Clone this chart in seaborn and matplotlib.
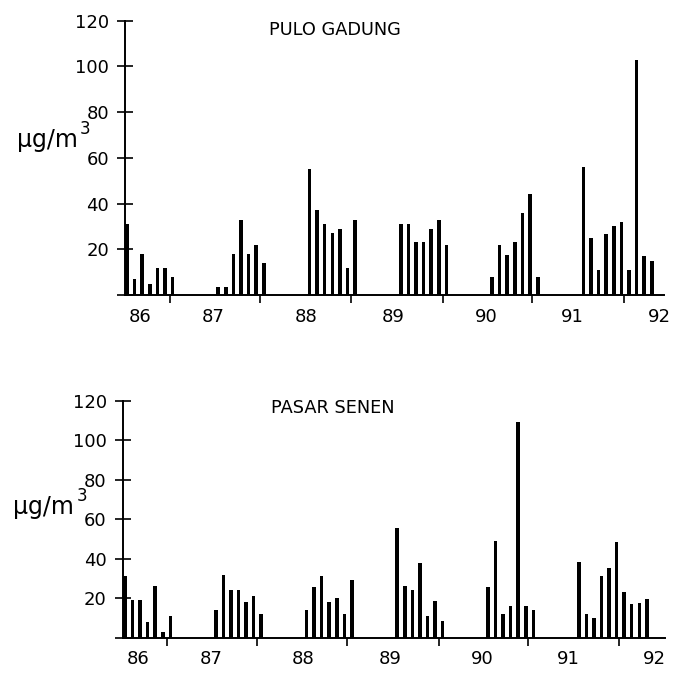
import numpy as np
import pandas as pd
import matplotlib
matplotlib.use("Agg")
import matplotlib.pyplot as plt
import seaborn as sns

# ---- data (months counted from Jan 1986) ----
year_labels = ["86", "87", "88", "89", "90", "91", "92"]
year_label_pos = [1.8, 11.4, 23.5, 35.0, 47.2, 58.6, 70.0]
midyear_ticks = [5.6, 17.5, 29.4, 41.5, 53.3, 65.3]

months = [0, 1, 2, 3, 4, 5, 6,
          12, 13, 14, 15, 16, 17, 18,
          24, 25, 26, 27, 28, 29, 30,
          36, 37, 38, 39, 40, 41, 42,
          48, 49, 50, 51, 52, 53, 54,
          60, 61, 62, 63, 64, 65, 66, 67, 68, 69]

pulo_gadung = [31, 7, 18, 5, 12, 12, 8,
               3.5, 3.5, 18, 33, 18, 22, 14,
               55, 37, 31, 27, 29, 12, 33,
               31, 31, 23, 23, 29, 33, 22,
               8, 22, 17.5, 23, 36, 44, 8,
               56, 25, 11, 26.5, 30, 32, 11, 103, 17, 15]

pasar_senen = [31, 19, 19, 8, 26, 3, 11,
               14, 32, 24, 24, 18, 21, 12,
               14, 25.5, 31, 18, 20, 12, 29,
               55.5, 26, 24, 38, 11, 18.5, 8.5,
               25.5, 49, 12, 16, 109, 16, 14,
               38.5, 12, 10, 31, 35.5, 48.5, 23, 17, 17.5, 19.5]

yticks = [0, 20, 40, 60, 80, 100, 120]
ytick_labels = ["", "20", "40", "60", "80", "100", "120"]
titles = ["PULO GADUNG", "PASAR SENEN"]

sns.set_theme(style="white")
plt.rcParams["font.family"] = ["DejaVu Sans"]

fig = plt.figure(figsize=(6.73, 6.79), dpi=100)
W, H = 673, 679

# axes boxes in pixels
boxes = [
    dict(left=125, right=664, top=20.7, bottom=295, xlim=(-0.25, 70.6)),
    dict(left=122.7, right=665, top=400.7, bottom=637.7, xlim=(-0.3, 71.4)),
]
series = [pulo_gadung, pasar_senen]
title_pos = [(335, 30), (333, 408)]
ylab = [dict(x=17, base=147, sx=80, sb=134), dict(x=13, base=514, sx=77, sb=501)]

for i, b in enumerate(boxes):
    ax = fig.add_axes([b["left"] / W, 1 - b["bottom"] / H,
                       (b["right"] - b["left"]) / W, (b["bottom"] - b["top"]) / H])
    df = pd.DataFrame({"month": months, "value": series[i]})
    sns.barplot(data=df, x="month", y="value", native_scale=True, color="black",
                width=0.47, errorbar=None, linewidth=0, ax=ax)
    ax.set_xlim(*b["xlim"])
    ax.set_ylim(0, 120)
    ax.set_xlabel("")
    ax.set_ylabel("")
    for s in ["top", "right"]:
        ax.spines[s].set_visible(False)
    for s in ["left", "bottom"]:
        ax.spines[s].set_color("black")
        ax.spines[s].set_linewidth(1.4)
    ax.set_yticks(yticks, labels=ytick_labels)
    ax.tick_params(axis="y", which="major", direction="inout", length=11,
                   width=1.2, pad=6, labelsize=13, colors="black", left=True)
    ax.set_xticks(year_label_pos, labels=year_labels)
    ax.set_xticks(midyear_ticks, minor=True)
    ax.tick_params(axis="x", which="major", length=0, pad=9, labelsize=13,
                   colors="black")
    ax.tick_params(axis="x", which="minor", direction="out", length=5.5,
                   width=1.2, colors="black", bottom=True)
    tx, ty = title_pos[i]
    ax.text((tx - b["left"]) / (b["right"] - b["left"]),
            (b["bottom"] - ty) / (b["bottom"] - b["top"]),
            titles[i], transform=ax.transAxes, ha="center", va="center",
            fontsize=12.8, color="black")
    yl = ylab[i]
    fig.text(yl["x"] / W, 1 - yl["base"] / H, "\u00b5g/m", fontsize=17,
             ha="left", va="baseline", color="black")
    fig.text(yl["sx"] / W, 1 - yl["sb"] / H, "3", fontsize=12,
             ha="left", va="baseline", color="black")

fig.savefig("out.png", dpi=100, facecolor="white")
